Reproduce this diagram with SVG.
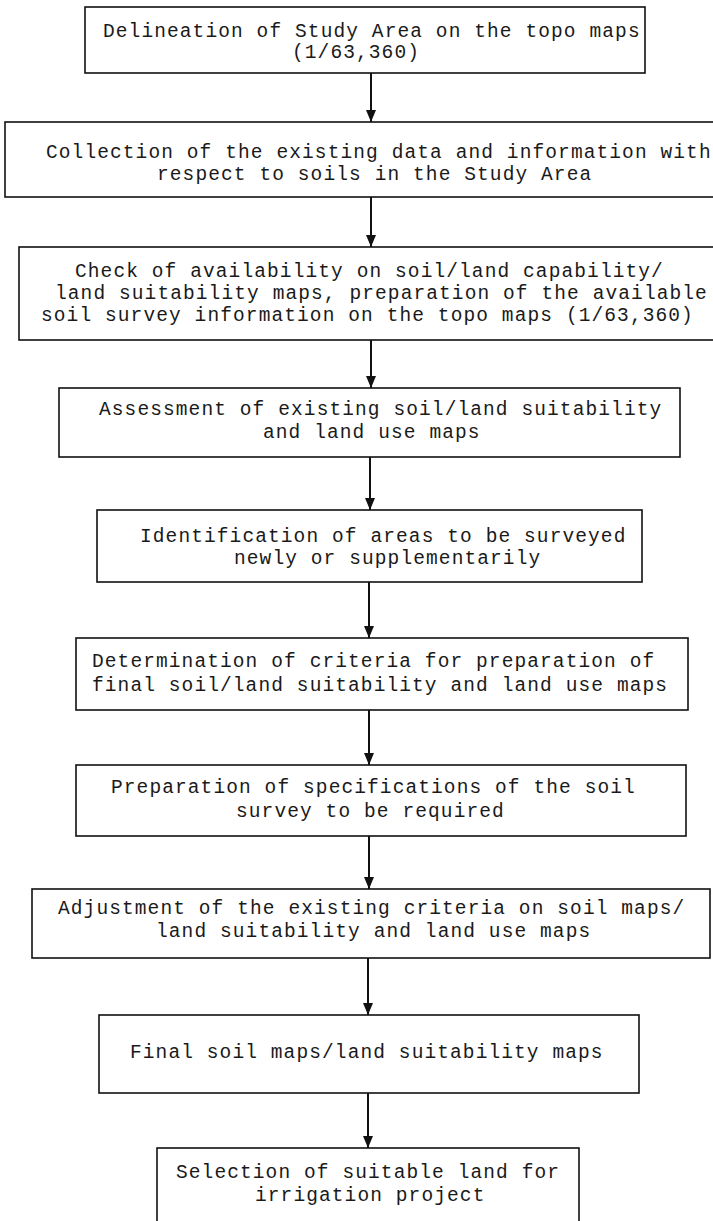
<svg xmlns="http://www.w3.org/2000/svg" width="713" height="1221" viewBox="0 0 713 1221">
<defs>
<style>
.box{fill:#fff;stroke:#111;stroke-width:1.6}
.t{font-family:"Liberation Mono","DejaVu Sans Mono",monospace;font-size:19.5px;letter-spacing:1.1px;fill:#1a1a1a}
.c{stroke:#111;stroke-width:2;fill:none}
</style>
<marker id="ah" viewBox="0 0 12 10" refX="12" refY="5" markerWidth="12" markerHeight="10" markerUnits="userSpaceOnUse" orient="auto">
<path d="M0,0 L12,5 L0,10 Z" fill="#111"/>
</marker>
</defs>
<rect width="713" height="1221" fill="#fff"/>
<g id="connectors">
<line class="c" x1="371" y1="73" x2="371" y2="122" marker-end="url(#ah)"/>
<line class="c" x1="371" y1="197" x2="371" y2="247" marker-end="url(#ah)"/>
<line class="c" x1="371" y1="340" x2="371" y2="388" marker-end="url(#ah)"/>
<line class="c" x1="370" y1="457" x2="370" y2="510" marker-end="url(#ah)"/>
<line class="c" x1="369" y1="582" x2="369" y2="638" marker-end="url(#ah)"/>
<line class="c" x1="369" y1="710" x2="369" y2="765" marker-end="url(#ah)"/>
<line class="c" x1="369" y1="836" x2="369" y2="889" marker-end="url(#ah)"/>
<line class="c" x1="368" y1="958" x2="368" y2="1015" marker-end="url(#ah)"/>
<line class="c" x1="368" y1="1093" x2="368" y2="1148" marker-end="url(#ah)"/>
</g>
<g id="n1"><rect class="box" x="85" y="7" width="560" height="66"/>
<text class="t" x="103" y="37">Delineation of Study Area on the topo maps</text>
<text class="t" x="292" y="58">(1/63,360)</text></g>
<g id="n2"><rect class="box" x="5" y="122" width="730" height="75"/>
<text class="t" x="46" y="158">Collection of the existing data and information with</text>
<text class="t" x="157" y="180">respect to soils in the Study Area</text></g>
<g id="n3"><rect class="box" x="19" y="247" width="720" height="93"/>
<text class="t" x="75" y="277">Check of availability on soil/land capability/</text>
<text class="t" x="55" y="299">land suitability maps, preparation of the available</text>
<text class="t" x="41" y="321">soil survey information on the topo maps (1/63,360)</text></g>
<g id="n4"><rect class="box" x="59" y="388" width="621" height="69"/>
<text class="t" x="99" y="415">Assessment of existing soil/land suitability</text>
<text class="t" x="263" y="438">and land use maps</text></g>
<g id="n5"><rect class="box" x="97" y="510" width="545" height="72"/>
<text class="t" x="140" y="542">Identification of areas to be surveyed</text>
<text class="t" x="234" y="564">newly or supplementarily</text></g>
<g id="n6"><rect class="box" x="76" y="638" width="612" height="72"/>
<text class="t" x="92" y="667">Determination of criteria for preparation of</text>
<text class="t" x="92" y="691">final soil/land suitability and land use maps</text></g>
<g id="n7"><rect class="box" x="76" y="765" width="610" height="71"/>
<text class="t" x="111" y="793">Preparation of specifications of the soil</text>
<text class="t" x="236" y="817">survey to be required</text></g>
<g id="n8"><rect class="box" x="32" y="889" width="678" height="69"/>
<text class="t" x="58" y="914">Adjustment of the existing criteria on soil maps/</text>
<text class="t" x="156" y="937">land suitability and land use maps</text></g>
<g id="n9"><rect class="box" x="99" y="1015" width="540" height="78"/>
<text class="t" x="130" y="1058">Final soil maps/land suitability maps</text></g>
<g id="n10"><rect class="box" x="157" y="1148" width="422" height="80"/>
<text class="t" x="176" y="1178">Selection of suitable land for</text>
<text class="t" x="255" y="1201">irrigation project</text></g>
</svg>
